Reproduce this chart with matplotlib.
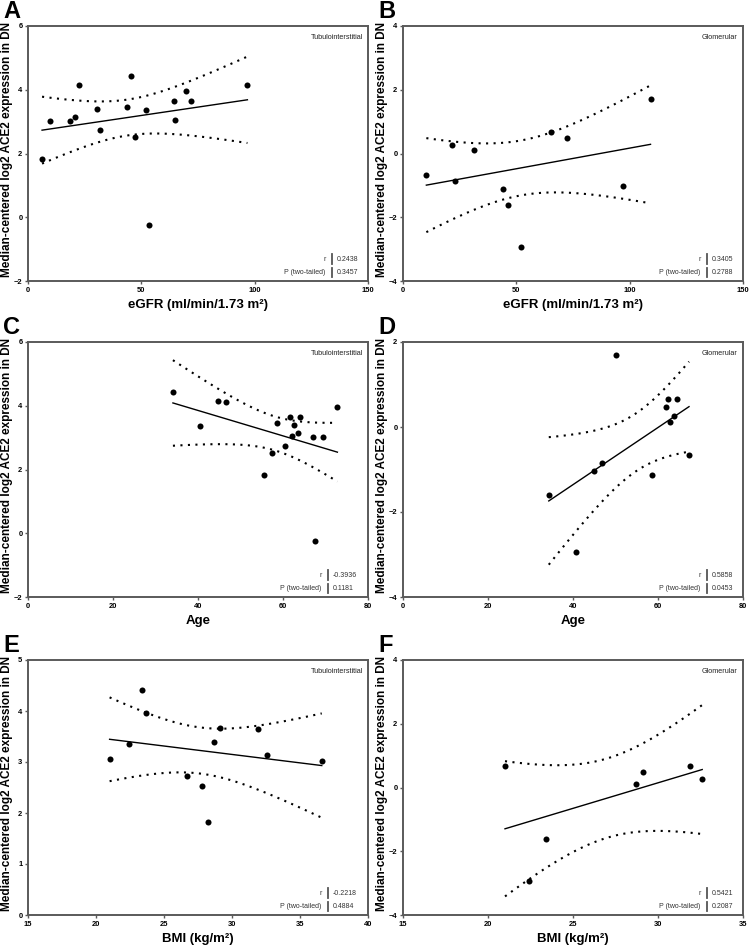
import numpy as np
import matplotlib.pyplot as plt

plt.rcParams['font.family'] = ['Liberation Sans', 'DejaVu Sans']

# A / B: eGFR
egfr_ti = [6.2, 9.6, 18.4, 20.6, 22.5, 30.5, 31.7, 43.6, 45.5, 47.3, 51.9, 53.5, 64.5, 65.0, 69.5, 71.9, 96.8]
ace2_egfr_ti = [1.82, 3.01, 3.01, 3.14, 4.14, 3.41, 2.73, 3.46, 4.42, 2.52, 3.35, -0.25, 3.64, 3.05, 3.97, 3.66, 4.14]
egfr_gl = [10.3, 21.4, 23.1, 31.2, 44.3, 46.3, 52.2, 65.3, 72.2, 97.2, 109.2]
ace2_egfr_gl = [-0.66, 0.26, -0.85, 0.11, -1.12, -1.60, -2.93, 0.67, 0.48, -1.03, 1.70]

# C / D: age
age_ti = [34.1, 40.5, 44.6, 46.6, 55.6, 57.4, 58.5, 60.4, 61.7, 62.1, 62.5, 63.5, 64.0, 67.6, 67.0, 69.3, 72.8]
ace2_age_ti = [4.42, 3.35, 4.14, 4.12, 1.82, 2.52, 3.46, 2.73, 3.66, 3.05, 3.41, 3.14, 3.64, -0.25, 3.01, 3.01, 3.97]
age_gl = [34.3, 40.8, 44.9, 46.8, 50.1, 58.7, 61.9, 62.3, 62.8, 63.7, 64.4, 67.3]
ace2_age_gl = [-1.60, -2.93, -1.03, -0.85, 1.70, -1.12, 0.48, 0.66, 0.11, 0.26, 0.67, -0.66]

# E / F: BMI
bmi_ti = [21.0, 22.4, 23.4, 23.7, 26.7, 27.8, 28.2, 28.7, 29.1, 31.9, 32.6, 36.6]
ace2_bmi_ti = [3.05, 3.35, 4.42, 3.97, 2.72, 2.52, 1.82, 3.40, 3.66, 3.64, 3.14, 3.01]
bmi_gl = [21.0, 22.4, 23.4, 28.7, 29.1, 31.9, 32.6]
ace2_bmi_gl = [0.67, -2.93, -1.60, 0.11, 0.48, 0.69, 0.26]

r_vals = ['0.2438', '0.3405', '-0.3936', '0.5858', '-0.2218', '0.5421']
p_vals = ['0.3457', '0.2788', '0.1181', '0.0453', '0.4884', '0.2087']
regions = ['Tubulointerstitial', 'Glomerular'] * 3
letters = ['A', 'B', 'C', 'D', 'E', 'F']

# two-sided 95% t critical values by df
t95 = {5: 2.5706, 9: 2.2622, 10: 2.2281, 15: 2.1314}

panels = [
    (egfr_ti, ace2_egfr_ti, 'eGFR (ml/min/1.73 m²)', (0, 150), [0, 50, 100, 150], (-2, 6), [-2, 0, 2, 4, 6]),
    (egfr_gl, ace2_egfr_gl, 'eGFR (ml/min/1.73 m²)', (0, 150), [0, 50, 100, 150], (-4, 4), [-4, -2, 0, 2, 4]),
    (age_ti, ace2_age_ti, 'Age', (0, 80), [0, 20, 40, 60, 80], (-2, 6), [-2, 0, 2, 4, 6]),
    (age_gl, ace2_age_gl, 'Age', (0, 80), [0, 20, 40, 60, 80], (-4, 2), [-4, -2, 0, 2]),
    (bmi_ti, ace2_bmi_ti, 'BMI (kg/m²)', (15, 40), [15, 20, 25, 30, 35, 40], (0, 5), [0, 1, 2, 3, 4, 5]),
    (bmi_gl, ace2_bmi_gl, 'BMI (kg/m²)', (15, 35), [15, 20, 25, 30, 35], (-4, 4), [-4, -2, 0, 2, 4]),
]
stat_bar_x = [0.893, 0.893, 0.881, 0.893, 0.881, 0.893]

fig = plt.figure(figsize=(7.5, 9.48), dpi=100)
W, H = 750.0, 948.0
lefts = [28, 403]
tops = [26, 342, 660]
axw, axh = 340, 255

for i, (x, y, xlab, xlim, xt, ylim, yt) in enumerate(panels):
    col, row = i % 2, i // 2
    ax = fig.add_axes([lefts[col] / W, 1 - (tops[row] + axh) / H, axw / W, axh / H])
    x = np.array(x)
    y = np.array(y)
    n = len(x)
    b, a = np.polyfit(x, y, 1)
    xs = np.linspace(x.min(), x.max(), 100)
    yh = a + b * xs
    resid = y - (a + b * x)
    s = np.sqrt(np.sum(resid ** 2) / (n - 2))
    sxx = np.sum((x - x.mean()) ** 2)
    half = t95[n - 2] * s * np.sqrt(1 / n + (xs - x.mean()) ** 2 / sxx)

    ax.plot(xs, yh, color='black', lw=1.0)
    ax.plot(xs, yh + half, color='black', lw=1.5, linestyle=(0, (1, 2.6)))
    ax.plot(xs, yh - half, color='black', lw=1.5, linestyle=(0, (1, 2.6)))
    ax.scatter(x, y, s=19, color='black', zorder=3, linewidths=0)

    ax.set_xlim(*xlim)
    ax.set_ylim(*ylim)
    ax.set_xticks(xt)
    ax.set_yticks(yt)
    for sp in ax.spines.values():
        sp.set_color('#5a5a5a')
        sp.set_linewidth(1.4)
    ax.tick_params(direction='out', length=2.5, width=1, color='#5a5a5a',
                   labelsize=5.4, pad=1.5)
    for lab in ax.get_xticklabels() + ax.get_yticklabels():
        lab.set_fontweight('bold')

    ax.set_xlabel(xlab, fontsize=9.5, fontweight='bold', labelpad=4)
    ax.set_ylabel('Median-centered log2 ACE2 expression in DN', fontsize=8.5,
                  fontweight='bold')
    ax.yaxis.set_label_coords(-0.045, 0.515)

    ax.text(0.985, 0.955, regions[i], transform=ax.transAxes, ha='right',
            va='center', fontsize=5.2, color='#222222')

    bx = stat_bar_x[i]
    for ry, lab, val in [(0.086, 'r', r_vals[i]), (0.034, 'P (two-tailed)', p_vals[i])]:
        ax.text(bx - 0.017, ry, lab, transform=ax.transAxes, ha='right', va='center',
                fontsize=5, color='#333333')
        ax.text(bx + 0.015, ry, val, transform=ax.transAxes, ha='left', va='center',
                fontsize=5, color='#333333')
        ax.plot([bx, bx], [ry - 0.018, ry + 0.018], transform=ax.transAxes,
                color='#555555', lw=1.3, clip_on=False)

    fig.text((lefts[col] - 25) / W, 1 - (tops[row] - 26) / H, letters[i], fontsize=17,
             fontweight='bold', ha='left', va='top')

fig.savefig('out.png', dpi=100)
